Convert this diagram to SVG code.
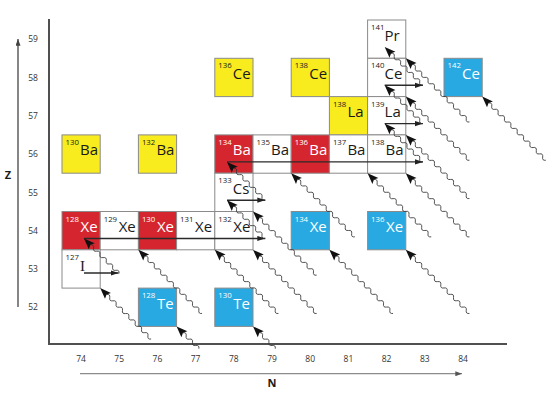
<svg xmlns="http://www.w3.org/2000/svg" xmlns:xlink="http://www.w3.org/1999/xlink" width="550" height="393" viewBox="0 0 550 393">
<style>
.cell{stroke:#8a8a8a;stroke-width:1}
.red{fill:#d5262f}.yel{fill:#f8ec1f}.blu{fill:#28a9e1}.wht{fill:#ffffff}
text{font-family:"Open Sans","Liberation Sans",sans-serif}
.m{font-size:7.8px}.s{font-size:15px}
.wt{fill:#ffffff}.bk{fill:#1a1a1a}
.wv{fill:none;stroke:#333333;stroke-width:0.8}
.ah{fill:#111111}
.h{stroke:#2a2a2a;stroke-width:1.4;fill:none;marker-end:url(#ha)}
.tick{font-size:8.5px;fill:#333333;text-anchor:middle}
.ax{font-weight:bold;font-size:11px;fill:#1a1a1a;text-anchor:middle}
</style>
<defs>
<marker id="ha" viewBox="0 0 8 6" refX="8" refY="3" markerWidth="8" markerHeight="6" markerUnits="userSpaceOnUse" orient="auto"><path d="M0,0.4 L8,3 L0,5.6 Z" fill="#222222"/></marker>
<marker id="ya" viewBox="0 0 8 6" refX="8" refY="3" markerWidth="7" markerHeight="5" markerUnits="userSpaceOnUse" orient="auto"><path d="M0,0 L8,3 L0,6 Z" fill="#444444"/></marker>
<marker id="na" viewBox="0 0 8 6" refX="8" refY="3" markerWidth="7" markerHeight="5" markerUnits="userSpaceOnUse" orient="auto"><path d="M0,0 L8,3 L0,6 Z" fill="#555555"/></marker>
<path id="head" class="ah" d="M0,0 L11,-4.2 L9,0 L11,4.2 Z"/>
<g id="wS"><path class="wv" d="M9,0 c1.5,-2.1 3,-2.1 4.5,0 s3,2.1 4.5,0 s3,-2.1 4.5,0 s3,2.1 4.5,0 s3,-2.1 4.5,0 s3,2.1 4.5,0 s3,-2.1 4.5,0 s3,2.1 4.5,0 s3,-2.1 4.5,0 s3,2.1 4.5,0"/><use xlink:href="#head" href="#head"/></g>
<g id="wI"><path class="wv" d="M9,0 c1.5,-2.1 3,-2.1 4.5,0 s3,2.1 4.5,0 s3,-2.1 4.5,0 s3,2.1 4.5,0 s3,-2.1 4.5,0 s3,2.1 4.5,0 s3,-2.1 4.5,0 s3,2.1 4.5,0 s3,-2.1 4.5,0"/><use xlink:href="#head" href="#head"/></g>
<g id="wL"><path class="wv" d="M9,0 c1.5,-2.1 3,-2.1 4.5,0 s3,2.1 4.5,0 s3,-2.1 4.5,0 s3,2.1 4.5,0 s3,-2.1 4.5,0 s3,2.1 4.5,0 s3,-2.1 4.5,0 s3,2.1 4.5,0 s3,-2.1 4.5,0 s3,2.1 4.5,0 s3,-2.1 4.5,0 s3,2.1 4.5,0 s3,-2.1 4.5,0 s3,2.1 4.5,0 s3,-2.1 4.5,0 s3,2.1 4.5,0 s3,-2.1 4.5,0 s3,2.1 4.5,0"/><use xlink:href="#head" href="#head"/></g>
<g id="wM"><path class="wv" d="M9,0 c1.5,-2.1 3,-2.1 4.5,0 s3,2.1 4.5,0 s3,-2.1 4.5,0 s3,2.1 4.5,0 s3,-2.1 4.5,0 s3,2.1 4.5,0 s3,-2.1 4.5,0 s3,2.1 4.5,0 s3,-2.1 4.5,0 s3,2.1 4.5,0 s3,-2.1 4.5,0 s3,2.1 4.5,0 s3,-2.1 4.5,0 s3,2.1 4.5,0"/><use xlink:href="#head" href="#head"/></g>
<g id="wT"><path class="wv" d="M9,0 c1.5,-2.1 3,-2.1 4.5,0 s3,2.1 4.5,0 s3,-2.1 4.5,0 s3,2.1 4.5,0 s3,-2.1 4.5,0"/><use xlink:href="#head" href="#head"/></g>
</defs>
<rect width="550" height="393" fill="#ffffff"/>

<g id="axes">
<path d="M49,19 V344 H507" fill="none" stroke="#505050" stroke-width="2"/>
<line x1="18" y1="307" x2="18" y2="39" stroke="#444444" stroke-width="1.3" marker-end="url(#ya)"/>
<line x1="80" y1="373.7" x2="462" y2="373.7" stroke="#8c8c8c" stroke-width="1.3" marker-end="url(#na)"/>
<text class="ax" x="8" y="179">Z</text>
<text class="ax" x="272" y="387">N</text>
<g class="tick">
<text x="33" y="42.3">59</text><text x="33" y="80.6">58</text><text x="33" y="118.9">57</text><text x="33" y="157.2">56</text>
<text x="33" y="195.5">55</text><text x="33" y="233.8">54</text><text x="33" y="272.1">53</text><text x="33" y="310.4">52</text>
<text x="81" y="362">74</text><text x="119.2" y="362">75</text><text x="157.4" y="362">76</text><text x="195.6" y="362">77</text>
<text x="233.8" y="362">78</text><text x="272" y="362">79</text><text x="310.2" y="362">80</text><text x="348.4" y="362">81</text>
<text x="386.6" y="362">82</text><text x="424.8" y="362">83</text><text x="463" y="362">84</text>
</g>
</g>

<g id="Ba130" transform="translate(62,134.9)"><rect class="cell yel" width="38.2" height="38.3"/><text class="m bk" x="3.5" y="10">130</text><text class="s bk" x="18" y="20.5">Ba</text></g>
<g id="Ba132" transform="translate(138.4,134.9)"><rect class="cell yel" width="38.2" height="38.3"/><text class="m bk" x="3.5" y="10">132</text><text class="s bk" x="18" y="20.5">Ba</text></g>
<g id="Ce136" transform="translate(214.8,58.3)"><rect class="cell yel" width="38.2" height="38.3"/><text class="m bk" x="3.5" y="10">136</text><text class="s bk" x="18" y="20.5">Ce</text></g>
<g id="Ce138" transform="translate(291.2,58.3)"><rect class="cell yel" width="38.2" height="38.3"/><text class="m bk" x="3.5" y="10">138</text><text class="s bk" x="18" y="20.5">Ce</text></g>
<g id="La138" transform="translate(329.4,96.6)"><rect class="cell yel" width="38.2" height="38.3"/><text class="m bk" x="3.5" y="10">138</text><text class="s bk" x="18" y="20.5">La</text></g>
<g id="Pr141" transform="translate(367.6,20)"><rect class="cell wht" width="38.2" height="38.3"/><text class="m bk" x="3.5" y="10">141</text><text class="s bk" x="17" y="20.5">Pr</text></g>
<g id="Ce140" transform="translate(367.6,58.3)"><rect class="cell wht" width="38.2" height="38.3"/><text class="m bk" x="3.5" y="10">140</text><text class="s bk" x="17" y="20.5">Ce</text></g>
<g id="La139" transform="translate(367.6,96.6)"><rect class="cell wht" width="38.2" height="38.3"/><text class="m bk" x="3.5" y="10">139</text><text class="s bk" x="17" y="20.5">La</text></g>
<g id="Ce142" transform="translate(444,58.3)"><rect class="cell blu" width="38.2" height="38.3"/><text class="m wt" x="3.5" y="10">142</text><text class="s wt" x="18" y="20.5">Ce</text></g>
<g id="Ba134" transform="translate(214.8,134.9)"><rect class="cell red" width="38.2" height="38.3"/><text class="m wt" x="3.5" y="10">134</text><text class="s wt" x="18" y="20.5">Ba</text></g>
<g id="Ba135" transform="translate(253,134.9)"><rect class="cell wht" width="38.2" height="38.3"/><text class="m bk" x="3.5" y="10">135</text><text class="s bk" x="18" y="20.5">Ba</text></g>
<g id="Ba136" transform="translate(291.2,134.9)"><rect class="cell red" width="38.2" height="38.3"/><text class="m wt" x="3.5" y="10">136</text><text class="s wt" x="18" y="20.5">Ba</text></g>
<g id="Ba137" transform="translate(329.4,134.9)"><rect class="cell wht" width="38.2" height="38.3"/><text class="m bk" x="3.5" y="10">137</text><text class="s bk" x="18" y="20.5">Ba</text></g>
<g id="Ba138" transform="translate(367.6,134.9)"><rect class="cell wht" width="38.2" height="38.3"/><text class="m bk" x="3.5" y="10">138</text><text class="s bk" x="18" y="20.5">Ba</text></g>
<g id="Cs133" transform="translate(214.8,173.2)"><rect class="cell wht" width="38.2" height="38.3"/><text class="m bk" x="3.5" y="10">133</text><text class="s bk" x="18" y="20.5">Cs</text></g>
<g id="Xe128" transform="translate(62,211.5)"><rect class="cell red" width="38.2" height="38.3"/><text class="m wt" x="3.5" y="10">128</text><text class="s wt" x="18.5" y="20.5">Xe</text></g>
<g id="Xe129" transform="translate(100.2,211.5)"><rect class="cell wht" width="38.2" height="38.3"/><text class="m bk" x="3.5" y="10">129</text><text class="s bk" x="18.5" y="20.5">Xe</text></g>
<g id="Xe130" transform="translate(138.4,211.5)"><rect class="cell red" width="38.2" height="38.3"/><text class="m wt" x="3.5" y="10">130</text><text class="s wt" x="18.5" y="20.5">Xe</text></g>
<g id="Xe131" transform="translate(176.6,211.5)"><rect class="cell wht" width="38.2" height="38.3"/><text class="m bk" x="3.5" y="10">131</text><text class="s bk" x="18.5" y="20.5">Xe</text></g>
<g id="Xe132" transform="translate(214.8,211.5)"><rect class="cell wht" width="38.2" height="38.3"/><text class="m bk" x="3.5" y="10">132</text><text class="s bk" x="18.5" y="20.5">Xe</text></g>
<g id="Xe134" transform="translate(291.2,211.5)"><rect class="cell blu" width="38.2" height="38.3"/><text class="m wt" x="3.5" y="10">134</text><text class="s wt" x="18.5" y="20.5">Xe</text></g>
<g id="Xe136" transform="translate(367.6,211.5)"><rect class="cell blu" width="38.2" height="38.3"/><text class="m wt" x="3.5" y="10">136</text><text class="s wt" x="18.5" y="20.5">Xe</text></g>
<g id="I127" transform="translate(62,249.8)"><rect class="cell wht" width="38.2" height="38.3"/><text class="m bk" x="3.5" y="10">127</text><text class="s bk" x="18" y="21" style="font-family:'Liberation Serif',serif">I</text></g>
<g id="Te128" transform="translate(138.4,288.1)"><rect class="cell blu" width="38.2" height="38.3"/><text class="m wt" x="3.5" y="10">128</text><text class="s wt" x="18.5" y="20.5">Te</text></g>
<g id="Te130" transform="translate(214.8,288.1)"><rect class="cell blu" width="38.2" height="38.3"/><text class="m wt" x="3.5" y="10">130</text><text class="s wt" x="18.5" y="20.5">Te</text></g>

<g id="connectors">
<path class="h" d="M84,273 H118.5"/>
<path class="h" d="M84,238.5 H265.3"/>
<path class="h" d="M227,200.2 H265.3"/>
<path class="h" d="M227,161.9 H423"/>
<path class="h" d="M384.7,123.6 H423"/>
<path class="h" d="M384.7,85.3 H423"/>
<use href="#wI" xlink:href="#wI" transform="translate(84,238.5) rotate(45)"/>
<use href="#wS" xlink:href="#wS" transform="translate(227,200.2) rotate(45)"/>
<use href="#wS" xlink:href="#wS" transform="translate(227,161.9) rotate(45)"/>
<use href="#wS" xlink:href="#wS" transform="translate(384.7,123.6) rotate(45)"/>
<use href="#wS" xlink:href="#wS" transform="translate(384.7,85.3) rotate(45)"/>
<use href="#wS" xlink:href="#wS" transform="translate(384.7,47) rotate(45)"/>
<use href="#wL" xlink:href="#wL" transform="translate(138.4,249.8) rotate(45)"/>
<use href="#wL" xlink:href="#wL" transform="translate(214.8,249.8) rotate(45)"/>
<use href="#wL" xlink:href="#wL" transform="translate(253,249.8) rotate(45)"/>
<use href="#wL" xlink:href="#wL" transform="translate(253,211.5) rotate(45)"/>
<use href="#wL" xlink:href="#wL" transform="translate(329.4,249.8) rotate(45)"/>
<use href="#wL" xlink:href="#wL" transform="translate(405.8,249.8) rotate(45)"/>
<use href="#wL" xlink:href="#wL" transform="translate(291.2,173.2) rotate(45)"/>
<use href="#wL" xlink:href="#wL" transform="translate(367.6,173.2) rotate(45)"/>
<use href="#wL" xlink:href="#wL" transform="translate(405.8,173.2) rotate(45)"/>
<use href="#wL" xlink:href="#wL" transform="translate(405.8,134.9) rotate(45)"/>
<use href="#wL" xlink:href="#wL" transform="translate(405.8,96.6) rotate(45)"/>
<use href="#wL" xlink:href="#wL" transform="translate(405.8,58.3) rotate(45)"/>
<use href="#wL" xlink:href="#wL" transform="translate(482.2,96.6) rotate(45)"/>
<use href="#wM" xlink:href="#wM" transform="translate(100.2,288.1) rotate(45)"/>
<use href="#wT" xlink:href="#wT" transform="translate(176.6,326.4) rotate(45)"/>
<use href="#wT" xlink:href="#wT" transform="translate(253,326.4) rotate(45)"/>
</g>
</svg>
